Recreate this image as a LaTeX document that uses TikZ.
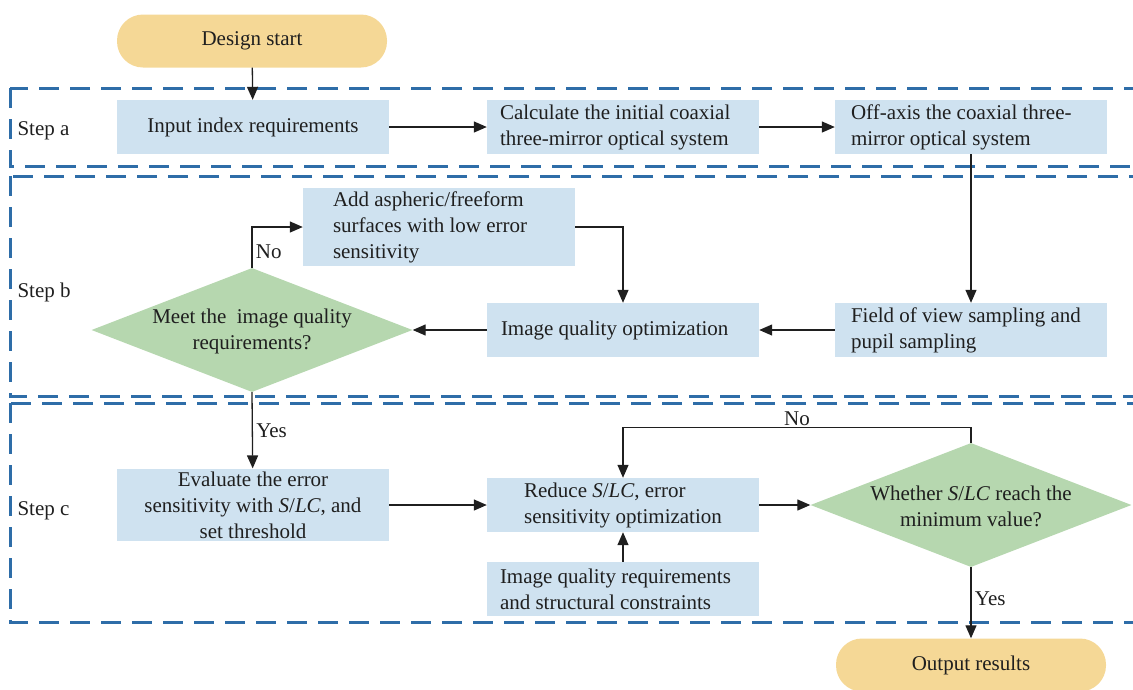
\documentclass[tikz,border=0pt]{standalone}
\usepackage{fontspec}
\setmainfont{Liberation Serif}
\usetikzlibrary{arrows.meta,% filled arrow heads
shapes.geometric,%        diamond nodes
positioning}
\definecolor{TermYellow}{HTML}{F5D896}
\definecolor{ProcBlue}{HTML}{CFE2F0}
\definecolor{DecGreen}{HTML}{B6D7AF}
\definecolor{StepBlue}{HTML}{2E6DA8}
\tikzset{every node/.style={font=\fontsize{21}{26}\selectfont, text=black!88},
  terminal/.style={rectangle, rounded corners=26pt, fill=TermYellow,
    minimum width=270pt, minimum height=53pt},
  process/.style={rectangle, fill=ProcBlue, minimum width=272pt,
    minimum height=54pt, inner ysep=3pt, align=left},
  padded/.style 2 args={text width=#1pt, inner xsep=#2pt, align=flush left},
  decision/.style={diamond, fill=DecGreen, minimum width=321pt,
    minimum height=124pt, inner sep=0pt},
  flow/.style={-{Triangle[length=13pt,width=11pt]}, line width=1.3pt, black!88},
  stepframe/.style={draw=StepBlue, line width=3pt, dash pattern=on 20pt off 11pt},
  steplabel/.style={anchor=west}}

\begin{document}
\begin{tikzpicture}[x=1pt,y=-1pt]
\useasboundingbox (0,0) rectangle (1133,689);
% step frames
\draw[stepframe] (10,88)  rectangle (1150,166);
\draw[stepframe] (10,176) rectangle (1150,396);
\draw[stepframe] (10,403) rectangle (1150,622);
\node[steplabel] (StepA) at (14,131) {Step a};
\node[steplabel] (StepB) at (14,292) {Step b};
\node[steplabel] (StepC) at (14,511) {Step c};
% step a
\node[terminal] (DesignStart) at (252,41)  {Design start};
\node[process]  (InputIndex)  at (253,127) {Input index requirements};
\node[process, padded={246}{13}] (CalcCoaxial) at (623,127) {Calculate the initial coaxial\\three-mirror optical system};
\node[process, padded={240}{16}] (OffAxis)     at (971,127) {Off-axis the coaxial three-\\mirror optical system};
% step b
\node[process, padded={212}{30}] (AddSurfaces) at (439,227) {Add aspheric/freeform\\surfaces with low error\\sensitivity};
\node[decision] (MeetQuality)   at (252,330) {};
\node[align=center] (MeetText)  at (252,331) {Meet the~ image quality\\requirements?};
\node[process, padded={244}{14}] (QualityOpt)    at (623,330) {Image quality optimization};
\node[process, padded={240}{16}] (FieldSampling) at (971,330) {Field of view sampling and\\pupil sampling};
% step c
\node[process, align=center] (Evaluate) at (253,505) {Evaluate the error\\sensitivity with \textit{S}/\textit{LC}, and\\set threshold};
\node[process]  (ReduceSLC)  at (623,505) {Reduce \textit{S}/\textit{LC}, error\\sensitivity optimization};
\node[process, padded={246}{13}] (QualityReq) at (623,589) {Image quality requirements\\and structural constraints};
\node[decision] (WhetherMin) at (971,505) {};
\node[align=center] (WhetherText) at (971,506) {Whether \textit{S}/\textit{LC} reach the\\minimum value?};
\node[terminal] (OutputResults) at (971,665) {Output results};
% connectors
\draw[flow] (DesignStart) -- (InputIndex);
\draw[flow] (InputIndex) -- (CalcCoaxial);
\draw[flow] (CalcCoaxial) -- (OffAxis);
\draw[flow] (OffAxis) -- (FieldSampling);
\draw[flow] (FieldSampling) -- (QualityOpt);
\draw[flow] (QualityOpt) -- (MeetQuality.east);
\draw[flow] (MeetQuality.north) |- node[pos=0.2, right] {No} (AddSurfaces.west);
\draw[flow] (AddSurfaces.east) -| (QualityOpt.north);
\draw[flow] (MeetQuality.south) -- node[right] {Yes} (Evaluate);
\draw[flow] (Evaluate) -- (ReduceSLC);
\draw[flow] (ReduceSLC) -- (WhetherMin.west);
\draw[flow] (WhetherMin.north) -- ++(0,-15) -| node[pos=0.25, above, inner sep=1pt] {No} (ReduceSLC.north);
\draw[flow] (QualityReq) -- (ReduceSLC);
\draw[flow] (WhetherMin.south) -- node[pos=0.45, right] {Yes} (OutputResults);
\end{tikzpicture}
\end{document}
